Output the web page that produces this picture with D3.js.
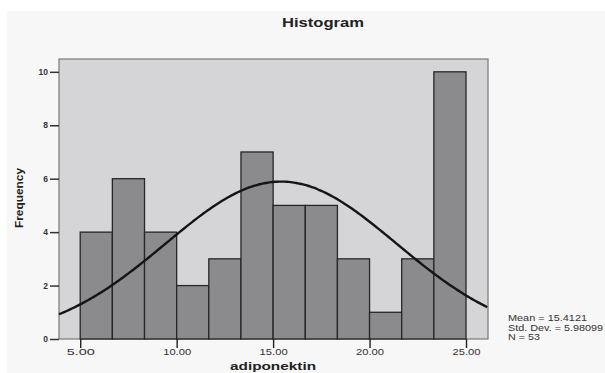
<!DOCTYPE html>
<html>
<head>
<meta charset="utf-8">
<script src="https://cdn.jsdelivr.net/npm/d3@7"></script>
<style>
  body { margin: 0; background: #fff; }
  text { font-family: "Liberation Sans", Arial, sans-serif; }
</style>
</head>
<body>
<div id="vis"></div>
<script>
// chart size
var width = 605;
var height = 373;

// histogram data (bins of width 5/3 from 5 to 25)
var binStarts = [5, 6.6667, 8.3333, 10, 11.6667, 13.3333, 15, 16.6667, 18.3333, 20, 21.6667, 23.3333];
var binWidth = 5 / 3;
var counts = [4, 6, 4, 2, 3, 7, 5, 5, 3, 1, 3, 10];
var xTicks = [5, 10, 15, 20, 25];
var yTicks = [0, 2, 4, 6, 8, 10];
var statLines = ["Mean = 15.4121", "Std. Dev. = 5.98099", "N = 53"];
var statWidths = [79, 95, 32];
var mean = 15.4121, sd = 5.98099, n = 53;

var plot = {left: 59, right: 488, top: 59, bottom: 339};

var svg = d3.select("#vis").append("svg")
  .attr("width", width)
  .attr("height", height);

// outer light panel
svg.append("rect")
  .attr("x", 7).attr("y", 11)
  .attr("width", width - 7).attr("height", height - 11)
  .attr("fill", "#f7f7f7");

var x = d3.scaleLinear().domain([3.9, 26.14]).range([plot.left, plot.right]);
var y = d3.scaleLinear().domain([0, 10.48]).range([plot.bottom, plot.top]);

// plot area
svg.append("rect")
  .attr("x", plot.left).attr("y", plot.top)
  .attr("width", plot.right - plot.left).attr("height", plot.bottom - plot.top)
  .attr("fill", "#d5d5d7")
  .attr("stroke", "#7a7a7a")
  .attr("stroke-width", 1.2);

// bars
svg.selectAll(".bar")
  .data(counts)
  .enter()
  .append("rect")
  .attr("class", "bar")
  .attr("x", function(d, i){ return x(binStarts[i]); })
  .attr("y", function(d){ return y(d); })
  .attr("width", function(d, i){ return x(binStarts[i] + binWidth) - x(binStarts[i]); })
  .attr("height", function(d){ return y(0) - y(d); })
  .attr("fill", "#8b8b8d")
  .attr("stroke", "#262626")
  .attr("stroke-width", 1.3);

// fitted normal curve from mean / sd / N
var curveXs = d3.range(3.9, 26.15, 0.1);
var line = d3.line()
  .x(function(d){ return x(d); })
  .y(function(d){
    var z = (d - mean) / sd;
    return y(n * binWidth * Math.exp(-0.5 * z * z) / (sd * Math.sqrt(2 * Math.PI)));
  })
  .curve(d3.curveBasis);

svg.append("path")
  .datum(curveXs)
  .attr("d", line)
  .attr("fill", "none")
  .attr("stroke", "#151515")
  .attr("stroke-width", 2.4);

// axes
var yAxis = svg.append("g")
  .attr("transform", "translate(" + plot.left + ",0)")
  .call(d3.axisLeft(y).tickValues(yTicks).tickSize(9).tickFormat(d3.format("d")));
yAxis.select(".domain").remove();
yAxis.selectAll("line").attr("stroke", "#333").attr("stroke-width", 1.5);
yAxis.selectAll("text")
  .attr("x", -11)
  .attr("font-size", 8.5)
  .attr("font-weight", "bold")
  .attr("fill", "#333")
  .style("font-family", "'Liberation Sans', Arial, sans-serif");

var xAxis = svg.append("g")
  .attr("transform", "translate(0," + plot.bottom + ")")
  .call(d3.axisBottom(x).tickValues(xTicks).tickSize(9).tickFormat(d3.format(".2f")));
xAxis.select(".domain").remove();
xAxis.selectAll("line").attr("stroke", "#222").attr("stroke-width", 1.4);
xAxis.selectAll("text")
  .attr("y", 10)
  .attr("font-size", 9)
  .attr("fill", "#333")
  .attr("textLength", 28)
  .attr("lengthAdjust", "spacingAndGlyphs")
  .style("font-family", "'Liberation Sans', Arial, sans-serif");

// titles
svg.append("text")
  .attr("x", 323).attr("y", 27)
  .attr("text-anchor", "middle")
  .attr("font-size", 12.5)
  .attr("font-weight", "bold")
  .attr("fill", "#222")
  .attr("textLength", 82)
  .attr("lengthAdjust", "spacingAndGlyphs")
  .text("Histogram");

svg.append("text")
  .attr("x", 273).attr("y", 369.5)
  .attr("text-anchor", "middle")
  .attr("font-size", 11.5)
  .attr("font-weight", "bold")
  .attr("fill", "#222")
  .attr("textLength", 86)
  .attr("lengthAdjust", "spacingAndGlyphs")
  .text("adiponektin");

svg.append("text")
  .attr("transform", "translate(23,198) rotate(-90)")
  .attr("text-anchor", "middle")
  .attr("font-size", 10.5)
  .attr("font-weight", "bold")
  .attr("fill", "#222")
  .attr("textLength", 60)
  .attr("lengthAdjust", "spacingAndGlyphs")
  .text("Frequency");

// stats box text
svg.selectAll(".stat")
  .data(statLines)
  .enter()
  .append("text")
  .attr("class", "stat")
  .attr("x", 508)
  .attr("y", function(d, i){ return 321 + i * 9.5; })
  .attr("font-size", 9)
  .attr("fill", "#333")
  .attr("textLength", function(d, i){ return statWidths[i]; })
  .attr("lengthAdjust", "spacingAndGlyphs")
  .text(function(d){ return d; });
</script>
</body>
</html>
